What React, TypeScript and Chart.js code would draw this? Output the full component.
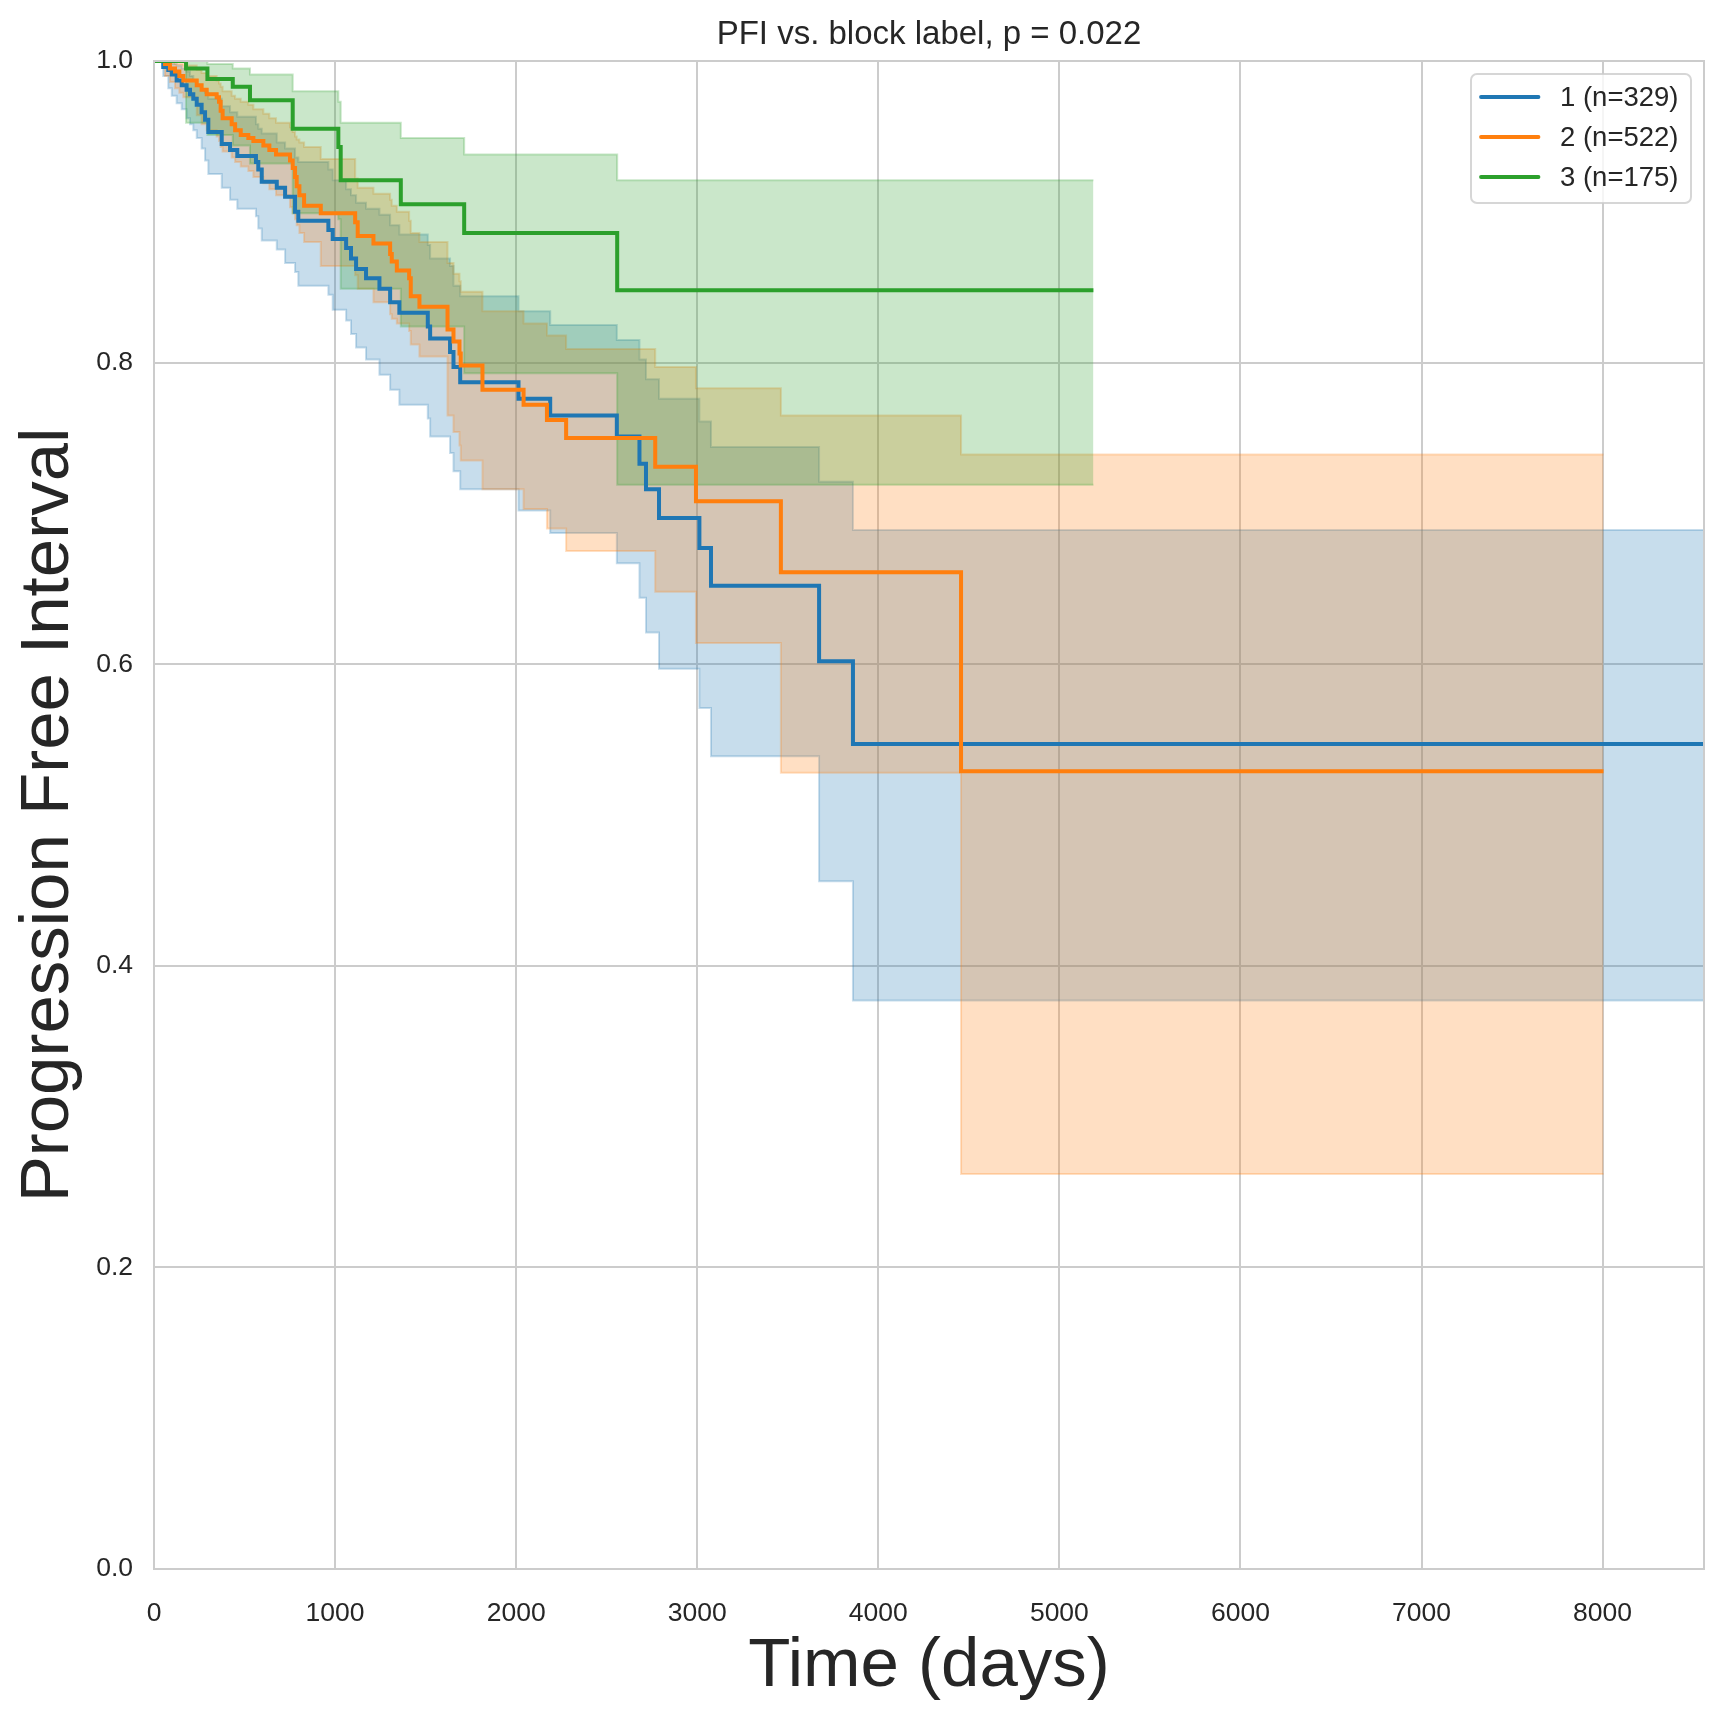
import { useEffect, useRef } from "react"
import { Chart, registerables } from "chart.js"

Chart.register(...registerables)

const FONT = "'Liberation Sans', Arial, sans-serif"
const TEXT = "#262626"
const GRID = "#cccccc"

const chartTitle = "PFI vs. block label, p = 0.022"
const xLabel = "Time (days)"
const yLabel = "Progression Free Interval"
const groupLabels = ["1 (n=329)", "2 (n=522)", "3 (n=175)"]
const groupColors = [
  [31, 119, 180],
  [255, 127, 14],
  [44, 160, 44],
]

// tick positions
const xTicks = [0, 1000, 2000, 3000, 4000, 5000, 6000, 7000, 8000]
const yTicks = [0, 0.2, 0.4, 0.6, 0.8, 1.0]
const xMax = 8560

// group 1 (blue)
const times1 = [0, 51, 79, 98, 125, 153, 180, 199, 217, 236, 263, 282, 300, 374, 420, 460, 563, 576, 595, 678, 724, 779, 797, 963, 987, 1061, 1088, 1116, 1171, 1245, 1304, 1355, 1512, 1525, 1635, 1654, 1691, 2013, 2188, 2556, 2681, 2717, 2789, 3012, 3076, 3673, 3860, 8560]
const surv1 = [1, 0.996, 0.994, 0.991, 0.987, 0.984, 0.981, 0.978, 0.975, 0.971, 0.966, 0.961, 0.953, 0.945, 0.941, 0.937, 0.933, 0.928, 0.92, 0.916, 0.91, 0.9, 0.894, 0.888, 0.882, 0.876, 0.869, 0.862, 0.856, 0.849, 0.84, 0.833, 0.824, 0.816, 0.807, 0.797, 0.787, 0.776, 0.765, 0.751, 0.733, 0.716, 0.697, 0.677, 0.652, 0.602, 0.547, 0.547]
const upper1 = [1, 1, 0.999, 0.998, 0.997, 0.995, 0.993, 0.99, 0.987, 0.984, 0.981, 0.979, 0.975, 0.97, 0.966, 0.963, 0.958, 0.955, 0.952, 0.946, 0.942, 0.936, 0.933, 0.928, 0.921, 0.915, 0.911, 0.906, 0.902, 0.898, 0.891, 0.885, 0.878, 0.869, 0.864, 0.851, 0.844, 0.834, 0.825, 0.815, 0.802, 0.789, 0.776, 0.761, 0.744, 0.721, 0.689, 0.689]
const lower1 = [1, 0.99, 0.982, 0.977, 0.972, 0.968, 0.962, 0.958, 0.954, 0.949, 0.942, 0.934, 0.925, 0.916, 0.908, 0.902, 0.897, 0.889, 0.881, 0.875, 0.866, 0.86, 0.851, 0.845, 0.835, 0.828, 0.819, 0.81, 0.802, 0.792, 0.782, 0.772, 0.763, 0.751, 0.74, 0.728, 0.716, 0.702, 0.687, 0.667, 0.644, 0.621, 0.597, 0.571, 0.539, 0.456, 0.377, 0.377]

// group 2 (orange)
const times2 = [0, 61, 88, 116, 140, 162, 236, 263, 291, 346, 359, 368, 379, 429, 448, 479, 521, 549, 604, 637, 674, 751, 766, 779, 788, 803, 829, 921, 1111, 1125, 1212, 1304, 1313, 1341, 1409, 1418, 1466, 1621, 1654, 1687, 1694, 1814, 2041, 2170, 2276, 2768, 2993, 3462, 4457, 8005]
const surv2 = [1, 0.998, 0.995, 0.993, 0.99, 0.987, 0.984, 0.981, 0.978, 0.976, 0.973, 0.967, 0.962, 0.958, 0.954, 0.951, 0.949, 0.947, 0.944, 0.941, 0.938, 0.934, 0.929, 0.923, 0.917, 0.911, 0.904, 0.899, 0.893, 0.884, 0.879, 0.872, 0.867, 0.861, 0.856, 0.844, 0.837, 0.822, 0.814, 0.806, 0.798, 0.782, 0.772, 0.762, 0.75, 0.731, 0.708, 0.661, 0.529, 0.529]
const upper2 = [1, 1, 0.999, 0.998, 0.998, 0.997, 0.994, 0.992, 0.99, 0.987, 0.985, 0.983, 0.98, 0.977, 0.975, 0.973, 0.971, 0.968, 0.965, 0.962, 0.959, 0.956, 0.953, 0.95, 0.948, 0.946, 0.943, 0.935, 0.922, 0.916, 0.912, 0.908, 0.904, 0.9, 0.894, 0.886, 0.88, 0.866, 0.859, 0.854, 0.847, 0.834, 0.826, 0.818, 0.809, 0.797, 0.783, 0.765, 0.739, 0.739]
const lower2 = [1, 0.99, 0.986, 0.982, 0.979, 0.976, 0.964, 0.958, 0.954, 0.95, 0.947, 0.943, 0.94, 0.936, 0.933, 0.93, 0.927, 0.923, 0.919, 0.915, 0.911, 0.903, 0.899, 0.895, 0.891, 0.886, 0.88, 0.864, 0.858, 0.849, 0.84, 0.832, 0.829, 0.826, 0.821, 0.812, 0.804, 0.765, 0.754, 0.745, 0.735, 0.716, 0.703, 0.69, 0.675, 0.648, 0.614, 0.528, 0.262, 0.262]

// group 3 (green)
const times3 = [0, 177, 295, 435, 530, 766, 1018, 1031, 1363, 1713, 2558, 5188]
const surv3 = [1, 0.995, 0.988, 0.983, 0.974, 0.955, 0.943, 0.921, 0.905, 0.886, 0.848, 0.848]
const upper3 = [1, 1, 0.998, 0.995, 0.991, 0.98, 0.973, 0.959, 0.949, 0.938, 0.921, 0.921]
const lower3 = [1, 0.959, 0.951, 0.944, 0.932, 0.899, 0.895, 0.849, 0.824, 0.793, 0.719, 0.719]

const groups = [
  { times: times1, surv: surv1, upper: upper1, lower: lower1 },
  { times: times2, surv: surv2, upper: upper2, lower: lower2 },
  { times: times3, surv: surv3, upper: upper3, lower: lower3 },
]

const rgba = (c: number[], a: number) => `rgba(${c[0]}, ${c[1]}, ${c[2]}, ${a})`
const toPoints = (xs: number[], ys: number[]) => xs.map((x, i) => ({ x, y: ys[i] }))

// spines on all four sides, like the seaborn whitegrid style
const framePlugin = {
  id: "frame",
  afterDatasetsDraw(chart: any) {
    const { ctx, chartArea } = chart
    ctx.save()
    ctx.strokeStyle = GRID
    ctx.lineWidth = 2
    ctx.strokeRect(chartArea.left, chartArea.top, chartArea.right - chartArea.left, chartArea.bottom - chartArea.top)
    ctx.restore()
  },
}

// matplotlib-like legend box in the upper right corner
const legendPlugin = {
  id: "kmLegend",
  afterDraw(chart: any) {
    const { ctx, chartArea } = chart
    const w = 220
    const h = 129
    const left = chartArea.right - 13 - w
    const top = chartArea.top + 13
    ctx.save()
    ctx.beginPath()
    ctx.roundRect(left, top, w, h, 6)
    ctx.fillStyle = "rgba(255, 255, 255, 0.8)"
    ctx.fill()
    ctx.strokeStyle = "rgba(204, 204, 204, 0.8)"
    ctx.lineWidth = 2
    ctx.stroke()

    const lines = chart.data.datasets.filter((d: any) => d.kmLine)
    lines.forEach((d: any, i: number) => {
      const y = top + 23 + i * 40
      ctx.beginPath()
      ctx.moveTo(left + 10, y)
      ctx.lineTo(left + 67.5, y)
      ctx.strokeStyle = d.borderColor
      ctx.lineWidth = 3.8
      ctx.lineCap = "round"
      ctx.stroke()
      ctx.fillStyle = TEXT
      ctx.font = `27.5px ${FONT}`
      ctx.textAlign = "left"
      ctx.textBaseline = "middle"
      ctx.fillText(d.label, left + 89, y + 1)
    })
    ctx.restore()
  },
}

export default function App() {
  const canvasRef = useRef<HTMLCanvasElement>(null)
  const chartRef = useRef<Chart | null>(null)

  useEffect(() => {
    if (!canvasRef.current) return
    if (chartRef.current) chartRef.current.destroy()

    const ctx = canvasRef.current.getContext("2d")
    if (!ctx) return

    // survival lines on top of every band (as in matplotlib: lines above fills)
    const lineSets = groups.map((g, i) => ({
      label: groupLabels[i],
      kmLine: true,
      data: toPoints(g.times, g.surv),
      borderColor: rgba(groupColors[i], 1),
      borderWidth: 4,
      pointRadius: 0,
      stepped: "before",
      fill: false,
      order: 3 - i,
    }))

    const bandSets = groups.flatMap((g, i) => [
      {
        label: `${groupLabels[i]} lower`,
        data: toPoints(g.times, g.lower),
        borderColor: rgba(groupColors[i], 0.25),
        borderWidth: 2,
        pointRadius: 0,
        stepped: "before",
        fill: false,
        order: 6 - i,
      },
      {
        label: `${groupLabels[i]} upper`,
        data: toPoints(g.times, g.upper),
        borderColor: rgba(groupColors[i], 0.25),
        backgroundColor: rgba(groupColors[i], 0.25),
        borderWidth: 2,
        pointRadius: 0,
        stepped: "before",
        fill: "-1",
        order: 6 - i,
      },
    ])

    chartRef.current = new Chart(ctx, {
      type: "line",
      data: { datasets: [...lineSets, ...bandSets] as any },
      options: {
        animation: false,
        responsive: true,
        maintainAspectRatio: false,
        layout: { padding: { left: 0, right: 20, top: 0, bottom: 0 } },
        plugins: {
          legend: { display: false },
          tooltip: { enabled: false },
          title: {
            display: true,
            fullSize: false,
            text: chartTitle,
            color: TEXT,
            font: { family: FONT, size: 33, weight: "normal", lineHeight: 1.2 },
            padding: { top: 15, bottom: 6.4 },
          },
        },
        scales: {
          x: {
            type: "linear",
            min: 0,
            max: xMax,
            afterFit: (scale: any) => {
              scale.height = 143
            },
            afterBuildTicks: (scale: any) => {
              scale.ticks = xTicks.map((value) => ({ value }))
            },
            grid: { color: GRID, lineWidth: 2, drawTicks: false },
            border: { display: true, color: GRID, width: 2 },
            ticks: {
              padding: 29,
              color: TEXT,
              maxRotation: 0,
              autoSkip: false,
              font: { family: FONT, size: 26.5 },
              callback: (v: any) => `${v}`,
            },
            title: {
              display: true,
              text: xLabel,
              color: TEXT,
              font: { family: FONT, size: 69, lineHeight: 1.2 },
              padding: { top: 0, bottom: 4 },
            },
          },
          y: {
            type: "linear",
            min: 0,
            max: 1,
            afterFit: (scale: any) => {
              scale.width = 154
            },
            afterBuildTicks: (scale: any) => {
              scale.ticks = yTicks.map((value) => ({ value }))
            },
            grid: { color: GRID, lineWidth: 2, drawTicks: false },
            border: { display: true, color: GRID, width: 2 },
            ticks: {
              padding: 21,
              color: TEXT,
              autoSkip: false,
              font: { family: FONT, size: 26.5 },
              callback: (v: any) => Number(v).toFixed(1),
            },
            title: {
              display: true,
              text: yLabel,
              color: TEXT,
              font: { family: FONT, size: 69, lineHeight: 1.2 },
              padding: { top: 8, bottom: 0 },
            },
          },
        },
      } as any,
      plugins: [framePlugin, legendPlugin],
    })

    return () => {
      if (chartRef.current) {
        chartRef.current.destroy()
        chartRef.current = null
      }
    }
  }, [])

  return (
    <div style={{ position: "absolute", left: 0, top: 0, width: 1724, height: 1712, background: "#ffffff" }}>
      <canvas ref={canvasRef} />
    </div>
  )
}
